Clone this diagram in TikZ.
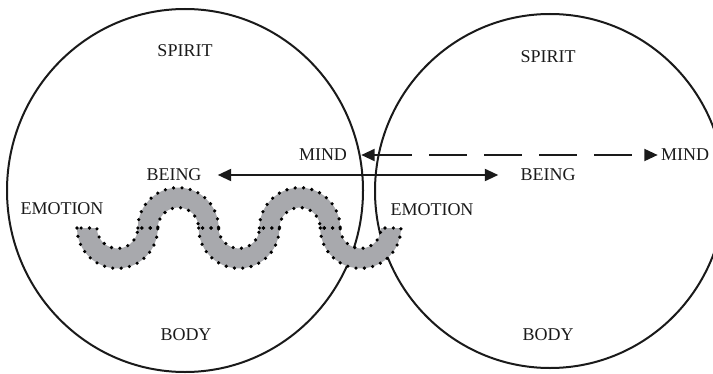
\documentclass[tikz,border=0pt]{standalone}
\usepackage{fontspec}
\setmainfont{Liberation Serif}
\usetikzlibrary{arrows.meta,shapes.geometric}
\definecolor{bandgray}{HTML}{A8A9AD}
\definecolor{inkblack}{HTML}{1A1A1A}
\tikzset{
  self/.style={ellipse, draw=inkblack, line width=1.5pt, inner sep=0pt},
  word/.style={font=\fontsize{13.5}{16}\selectfont, text=inkblack, inner sep=1pt},
  twoway/.style={{Triangle[length=10pt,width=9pt]}-{Triangle[length=10pt,width=9pt]}, line width=1.4pt, draw=inkblack},
  farway/.style={twoway, dash pattern=on 28.5pt off 12.75pt},
  bandfill/.style={fill=bandgray},
  bandedge/.style={draw=black, line width=2.7pt, line cap=round, dash pattern=on 0pt off 6.3pt}
}
% one half ring of the wave: centre x, start angle, end angle, style
\newcommand{\wavepiece}[4]{
  \path[#4] plot[domain=#2:#3, samples=25, variable=\t] ({#1+40.4*cos(\t)},{228+40.4*sin(\t)})
    -- plot[domain=#3:#2, samples=25, variable=\t] ({#1+20.4*cos(\t)},{228+20.4*sin(\t)}) -- cycle;
}

\begin{document}
\begin{tikzpicture}[x=0.75pt, y=-0.75pt]
\useasboundingbox (0,0) rectangle (713,374);
\clip (0,0) rectangle (713,374);
\node[self, minimum width=267pt, minimum height=272.25pt] (selfL) at (185,190.5) {};
\node[self, minimum width=262.5pt, minimum height=265.5pt] (selfR) at (550,191) {};
% wave between the two
\foreach \cx/\a/\b in {117.4/180/0, 178.2/180/360, 239/180/0, 299.8/180/360, 360.6/180/0}
  \wavepiece{\cx}{\a}{\b}{bandfill};
\foreach \cx/\a/\b in {117.4/180/0, 178.2/180/360, 239/180/0, 299.8/180/360, 360.6/180/0}
  \wavepiece{\cx}{\a}{\b}{bandedge};
\node[word] (spiritL) at (185,51) {SPIRIT};
\node[word] (mindL) at (323,155) {MIND};
\node[word] (beingL) at (174,175) {BEING};
\node[word] (emotionL) at (62,209) {EMOTION};
\node[word] (bodyL) at (186,335) {BODY};
\node[word] (spiritR) at (548,57) {SPIRIT};
\node[word] (mindR) at (685,155) {MIND};
\node[word] (beingR) at (548,175) {BEING};
\node[word] (emotionR) at (432,210) {EMOTION};
\node[word] (bodyR) at (548,335) {BODY};
\draw[twoway, shorten <=11pt, shorten >=15.5pt] (beingL.east) -- (beingR.west);
\draw[farway, shorten <=9.5pt, shorten >=1.3pt] (mindL.east) -- (mindR.west);
\end{tikzpicture}
\end{document}
